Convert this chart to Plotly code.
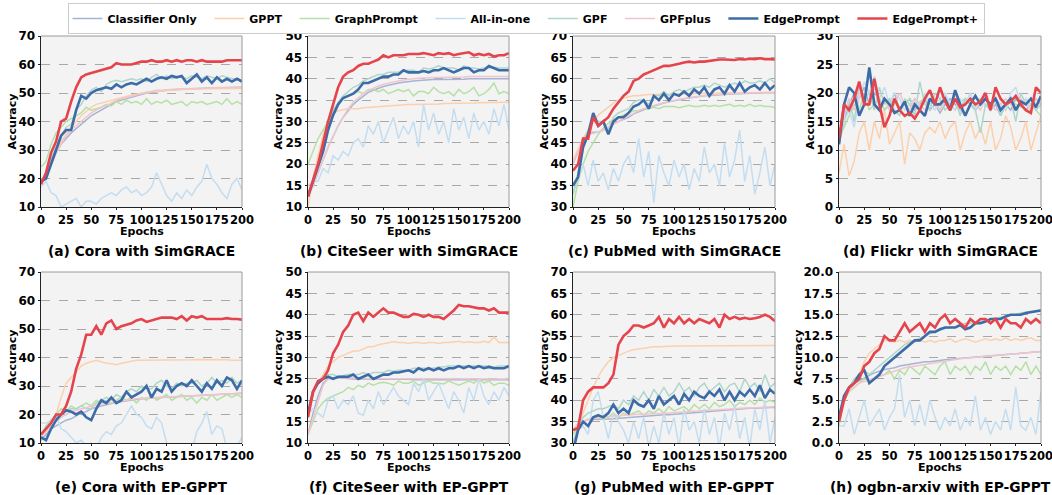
import plotly.graph_objects as go

EPOCHS = list(range(0, 201, 5))
METHODS = ["Classifier Only", "GPPT", "GraphPrompt", "All-in-one", "GPF", "GPFplus", "EdgePrompt", "EdgePrompt+"]

# ---------- (a) Cora with SimGRACE ----------
a_cls = [18,21,25,29,32,34,36,37.5,39,40.5, 42,43,44,45,46,47,47.5,48,48.5,49, 49.5,50,50.2,50.5,50.7,51,51,51.2,51.3,51.5, 51.5,51.6,51.6,51.7,51.7,51.8,51.8,51.9,51.9,52, 52]
a_gppt = [18,22,26,30,33,35.5,38,40,42,43.5, 45,46,46.5,47,47.5,48,48.5,49,49.3,49.6, 50,50.2,50.4,50.6,50.8,51,51,51.1,51.2,51.3, 51.3,51.4,51.4,51.5,51.5,51.5,51.5,51.6,51.6,51.6, 51.6]
a_gp = [24,26,32,36,38,40,41,42,43,45, 44,44.5,45,46,45.5,47,46,47.5,46.5,47, 46,48,46,47,46.5,47.5,46,46.5,47,45.5, 47,46.5,47,46,46.5,47,46,48,46,47, 46]
a_aio = [17,19,15,14,10,11,12,13,10,12, 12,11,13,14,15,14,16,17,15,16, 14,15,17,22,18,14,12,15,13,16, 14,17,19,25,20,18,15,13,18,20, 16]
a_gpf = [19,22,27,31,35,38,39,44,46,49, 51,52,50.5,53,54,54.5,54,54.5,55,54.5, 55,54,55.5,56.5,55,56,55,55.5,55.5,55, 56,55.5,55,56,55.5,55,56,55.5,55,55, 54.5]
a_gpfp = [18,21,25,29,32,35,37,38.5,40,41.5, 43,44,45,45.5,46.5,47.5,48,48.5,49,49.5, 50,50.3,50.5,51,51,51.2,51.3,51.4,51.5,51.5, 51.6,51.6,51.7,51.7,51.8,51.8,51.8,51.9,51.9,51.9, 52]
a_ep = [19,20,25,30,35,37,37,44,49,48, 50,51,51.5,52,51.5,53,52,53,53.5,53, 54,55,54,55,55.5,55,56,55.5,56,53.5, 55,56.5,54,55.5,53.5,55.5,54,55,54,55, 54]
a_epp = [18,22,29,33,40,41,47,52,55.5,56.5, 57,57.5,58,58.5,59,60.5,60,60,60,60.5, 61,61,61.5,61,61,61.5,61,61.5,61,61.5, 61.5,61,61.5,61,61,61,61,61.5,61.5,61.5, 61.5]

# ---------- (b) CiteSeer with SimGRACE ----------
b_cls = [12.5,15,18,21,24,26.5,29,31,32.5,34, 35,36,36.8,37.3,37.8,38.2,38.5,38.8,39,39.2, 39.4,39.5,39.6,39.7,39.7,39.8,39.8,39.8,39.9,39.9, 39.9,39.9,40,40,40,40,40,40,40,40, 40]
b_gppt = [10,17,22,27,30,32,32.5,32.8,33,33, 33,33.2,33.3,33.4,33.5,33.6,33.7,33.8,33.8,33.9, 34,34,34,34,34.1,34.1,34.1,34.2,34.2,34.2, 34.3,34.3,34.3,34.3,34.4,34.4,34.4,34.4,34.5,34.5, 34.5]
b_gp = [20,23,26,28,30,33,34,35.5,36,36.5, 37,36.5,37.5,37.5,37,37.5,36.5,37,37.5,37, 37.5,36,37,37,36.5,38,37,36.5,37,36, 37.5,36.5,37,38,36,36.5,37.5,39,36.5,37, 36.5]
b_aio = [15,16,16,19,18,22,21,23,22,25, 26,24,29,27,30,25,28,31,26,29, 27,30,24,34,28,32,27,30,25,33, 28,31,26,32,28,30,27,33,29,34, 28]
b_gpf = [12.5,16,20,25,29,32.5,34.5,36,37,38, 38.5,39.5,40,40.5,41,41,41.5,41.5,41.5,42, 42,42,41.5,42.5,42.3,42.5,43,42.5,42.5,42.5, 42,43,42.5,42.5,42.3,42.5,42.5,42.7,42.5,42.5, 42.5]
b_gpfp = [12.5,15,18,21,24,26.5,29,31,33,34.5, 35.5,36.5,37.2,37.8,38.3,38.7,39,39.3,39.5,39.7, 39.9,40,40.1,40.2,40.2,40.3,40.3,40.3,40.4,40.4, 40.4,40.4,40.5,40.5,40.5,40.5,40.5,40.5,40.5,40.5, 40.5]
b_ep = [12.5,16,19.5,23,28,31.5,34,35.5,36,36.5, 37.5,39,39,39.5,40,40.5,40.5,41,41,42, 41.5,41.5,41.5,41.8,41.5,42,42,42.5,42,41.5, 42,42.5,42.5,41.5,42,42,43,42.5,42,42, 42]
b_epp = [12.5,16,20,25,30,34,38,40.5,41.5,42, 43,43.5,43.5,44,44.5,45.5,45,45.5,45.5,45.5, 45.8,45.8,45.8,46,45.8,45.5,46,45.8,46,45.5, 45.8,46,46.2,45.5,45.8,45.5,45.8,45.2,45.5,45.5, 46]

# ---------- (c) PubMed with SimGRACE ----------
c_cls = [40,43,46,47,47.5,47.5,48,48.5,49.5,50, 50.5,51,51.8,52.3,52.8,53.2,53.6,54,54.3,54.6, 54.9,55.1,55.3,55.5,55.7,55.8,56,56.1,56.2,56.3, 56.4,56.4,56.5,56.5,56.6,56.6,56.6,56.7,56.7,56.7, 56.7]
c_gppt = [41,43.5,46,48,50,51.5,52.5,53.5,54.3,55, 55.5,55.8,56,56,56.2,56.3,56.3,56.4,56.4,56.4, 56.5,56.5,56.5,56.5,56.6,56.6,56.6,56.6,56.6,56.7, 56.7,56.7,56.7,56.7,56.7,56.8,56.8,56.8,56.8,56.8, 56.8]
c_gp = [30,36,40,43,45,47,48.5,49.5,50.5,51, 51.5,52,52.5,52.5,53,53,53.3,53,53.5,53.5, 53.5,53.2,53.5,53.8,53.5,53.5,53.8,53.5,53.8,53.5, 53.8,54,53.5,53.8,53.5,54,53.5,53.8,53.5,53.5, 53.3]
c_aio = [33,37,40,35,41,36,38,34,39,36, 40,42,38,46,37,43,31,42,38,35, 41,37,40,34,39,36,44,38,40,35, 45,37,41,48,36,42,33,38,44,35, 40]
c_gpf = [33,38,45,48,51,50,50,48,51,52, 52.5,53,54.5,55,55,54,56,56,57,56, 57,57.5,57,57.5,58,58,58.5,58,59,58.5, 58,58.5,59,58.5,59.5,59,59,59.5,59,60, 59]
c_gpfp = [40,43,46,47,47.3,47.5,48,48.7,49.5,50.2, 50.7,51.3,52,52.5,53,53.4,53.8,54.1,54.4,54.7, 55,55.2,55.4,55.6,55.8,55.9,56.1,56.2,56.3,56.4, 56.5,56.5,56.6,56.6,56.7,56.7,56.7,56.8,56.8,56.8, 56.8]
c_ep = [35,37,44,47,52,49,50,47,50,51, 51,52,53.5,54,55,53,56,55,56.5,55, 56.5,56,57,56,57.5,56.5,58,56,57.5,58, 56.5,58.5,57,59,57,58,58.5,57.5,59,57.5, 58.5]
c_epp = [38.5,40,46,46,51,49,50,51,53,54.5, 56,57,59.5,60,61,61.5,62,62.5,63,63, 63.2,63.5,63.8,64,63.8,64,64,64.2,64.3,64.5, 64.5,64.5,64.4,64.6,64.5,64.7,64.6,64.8,64.6,64.6, 64.5]

# ---------- (d) Flickr with SimGRACE ----------
d_cls = [11,15,18,20,19,21,18,20,19,17, 18,20,17,18,19,17,18,19,17,18, 16.5,18,19,18,17,19,18,17,18,19, 17,18,16,18,17,19,18,17,18,19, 18]
d_gppt = [6,11,5.5,8,13,15,10,15,12,17, 11,13,15,7.5,13,12,10,13,14,13, 15,12,14,15,10,13,15,12,14,11, 15,10,12,16,14,10,12,15,10,13, 16]
d_gp = [12,14,16,18,17,20,17,18,19,17, 18,19,17.5,18,19,18,18.5,19,18,19, 17,19,18,17,18.5,19,18,17.5,19,18, 17,19,18,17,19,18,17.5,19,18,17, 16]
d_aio = [12,15,17,14,19,22,20,23,19,21, 18,20,19,17,18,19,17,20,18,17, 19,20,18,17,19,18,20,17,19,18, 17,19,18,17,20,21,18,19,17,18, 19]
d_gpf = [11,16,19,15,21,19,20,17,21,18, 19,17,16,19,18,16,22,18,17,20, 19,17,18,19,16,19,18,17,13,18, 17,19,16,18,19,15,20,18,19,17, 18]
d_gpfp = [11,16,19,17,20,19,18,21,18,19, 17,18,20,18,17,19,18,17,19,18, 17,19,18,20,17,18,19,18,17,19, 18,17,18,19,18,17,19,18,17,19, 18]
d_ep = [11,18,21,20,16,18,24.5,18,17,19, 18,16.5,17,18.5,16,18,17,16,19,18, 18,19,17,20.5,18,16,18,19.5,18,19, 18,19,17,18,19,17,18.5,18,19,17.5, 19.5]
d_epp = [12,18,17,19,22,18,18,22.5,18,14, 16,19,17,16,16.5,15.5,17,19,20.5,18, 21,18.5,17,19,17.5,18,19,18,18.5,20, 17,21,19,18,18.5,19.5,18,17,16.5,21, 20]

# ---------- (e) Cora with EP-GPPT ----------
e_cls = [11,13,15,16,17,18,18.5,19.5,20.5,21, 22,22.5,23,23.5,24,24.3,24.6,24.9,25.1,25.3, 25.5,25.7,25.8,25.9,26,26.1,26.2,26.3,26.4,26.5, 26.6,26.7,26.8,26.9,27,27.1,27.2,27.3,27.4,27.5, 27.5]
e_gppt = [13,14,17,20,26,31,33,35,37,38, 38.5,39,38.5,38,37.8,37.5,38,38.3,38.5,39, 39,39,39,39,39.2,39.2,39,39,39,39, 39.2,39.3,39.3,39.2,39.2,39.3,39.2,39.2,39,39, 39]
e_gp = [13,16,18,20,22,21,23,22,23,24, 23,25,24,25,24,25,26,25,26,24, 26,25,27,25,26,27,25,26,27,25, 26,24,26,25,27,25,26,27,26,27, 26]
e_aio = [17,17,18,20,15,14,12,10,11,9, 10,8,12,14,13,16,17,20,23,20, 19,16,15,19,17,10,8,7,9,8, 7,14,17,21,13,16,15,8,7,9, 12]
e_gpf = [12,15,18,19,20,21,22,22,23,22, 22,24,25,26,25,27,26,28,29,28, 30,29,29,31,32,30,29,31,30,31, 31,32,30,31,33,31,32,31,33,31, 32]
e_gpfp = [12,14,16,17.5,19,20,21,21.5,22,22.5, 23,23.3,23.7,24,24.3,24.6,24.9,25.1,25.3,25.5, 25.7,25.8,25.9,26,26.1,26.2,26.3,26.4,26.5,26.6, 26.7,26.8,26.9,27,27,27.1,27.2,27.3,27.4,27.5, 27.5]
e_ep = [12,11,15,18,20,21.5,21,20,21,19, 18,22,25,24,26,24,25,28,26,27, 28,30,26,29,28,32,28,30,31,30, 32,30,28,31,29,32,30,33,32,29, 32]
e_epp = [13,15,17,20,20,23,28,36,41,48, 48,51,48,52,53,50,51,51.5,52,53, 53.5,52.5,53,53.5,54,54,54,53.5,54.5,53, 54.5,54,54.5,53.5,53.5,53.5,53.5,53.8,53.5,53.5, 53.3]

# ---------- (f) CiteSeer with EP-GPPT ----------
f_cls = [12,17,21,24,25,25.2,25.2,25.2,25.1,25, 25,25,25,25,25,24.9,24.9,24.9,24.9,24.9, 24.9,24.8,24.8,24.8,24.8,24.8,24.8,24.8,24.8,24.8, 24.8,24.8,24.8,24.8,24.8,24.8,24.8,24.8,24.8,24.8, 24.8]
f_gppt = [16,21,24,26,28,29,30,30.5,31,31.5, 31.5,32,32.5,32.5,33,33.2,33.5,33.7,33.5,33.5, 33.3,33.5,33.5,33.3,33.5,33.5,33.3,33.5,33.5,33.7, 33.8,33.5,33.7,33.5,33.5,33.8,33.5,34.8,33.5,33.5, 33.5]
f_gp = [12,15,18,19.5,20.5,21,21.5,22,23,22.5, 23.5,23,24,23.5,24,24.2,24,23.5,24.5,24, 24,24.5,23.5,24,24.5,24,24,23.8,24.5,24, 23.5,24,24.5,24,25,24,24.5,23.5,24,24, 23.5]
f_aio = [17,18,17,16,20,21,18,20,19,21, 17,16.5,20,18,22,19,21,23,21,20, 19,24,22,25,20,22,24,21,18,22, 20,17,23,20,25,21,19,22,20,23, 21]
f_gpf = [17,22,24.5,25.5,26,26,25.5,25.8,26,26, 26,26.5,26,26.5,26.5,26.5,27,26.8,27,27, 27,27.5,27.5,27.5,27.5,27.5,27.8,27.8,28,28, 28,28,28,28,28,28,28,27.8,28,28, 28]
f_gpfp = [12,16,20,23.5,25,25.3,25.3,25.3,25.2,25.2, 25.1,25.1,25.1,25,25,25,25,25,25,25, 25,25,25,25,25,25,25,25,25,25, 25,25,25,25,25,25,25,25,25,25, 25]
f_ep = [17,22,24,25,25.5,25,25.5,25.5,25.5,26, 25,25.5,26,25,25.5,26,26,26.5,26.5,26.8, 27,26.5,27.5,27,27.5,27,27.5,27,27.5,27.5, 28,27.5,28,27.5,28,27.5,27.8,27.5,27.5,27.5, 28]
f_epp = [16,22,24.5,25,27,31,33,36,37.5,40, 40.5,38.5,40.5,39.5,40.5,41.5,40.5,40.5,40,39.5, 39.5,40.2,40,39.5,40,39.5,39.5,39,40,41, 42.3,42,42,41.8,41.5,41.5,41,41.5,40.5,40.5, 40.5]

# ---------- (g) PubMed with EP-GPPT ----------
g_cls = [33,34.5,35,35.5,35.5,35.5,35.5,35.6,35.7,35.8, 35.9,36,36.1,36.2,36.3,36.4,36.5,36.5,36.6,36.6, 36.7,36.8,36.9,37,37.1,37.2,37.3,37.4,37.5,37.6, 37.7,37.8,37.9,38,38,38.1,38.1,38.2,38.2,38.3, 38.3]
g_gppt = [30,33,37,40,43,45.5,47.5,49,50,50.5, 51,51.5,51.8,52,52.2,52.3,52.5,52.5,52.6,52.7, 52.7,52.7,52.7,52.8,52.8,52.8,52.8,52.8,52.8,52.8, 52.8,52.8,52.8,52.8,52.8,52.8,52.8,52.8,52.8,52.8, 52.8]
g_gp = [32,34,35,35.5,36,36,35.5,36,37,36, 37,36.5,37,37.5,36.5,37.5,37,38,37,38.5, 37.5,38,38.5,37.5,39,38,39,38,39.5,38.5, 39,40,38.5,39.5,39,40,39,40.5,39.5,40, 39.5]
g_aio = [30,33,34,32,40,42,36,31,37,35, 33,30,35,31,36,29,34,30,37,32, 36,29,38,33,35,30,38,32,36,29, 37,33,39,31,36,29,38,33,40,30, 36]
g_gpf = [30,34,36,37,37.5,38,38,38.5,39,38, 40,39,41,40,42,40,42.5,41,43,41, 42,44,42,43,41,43,44,42,43,44, 42,43.5,44,42,45,43,44,42,46,43, 44]
g_gpfp = [33,34.5,35,35.5,35.8,36,36,36.2,36.3,36.4, 36.5,36.6,36.6,36.7,36.7,36.8,36.8,36.9,36.9,37, 37,37.1,37.2,37.3,37.4,37.5,37.6,37.7,37.7,37.8, 37.8,37.9,38,38.1,38.2,38.2,38.3,38.3,38.4,38.4, 38.5]
g_ep = [28,33,35,34,36,36.5,36,37,39,37, 38,37,40,39,38.5,40,38,41,39,40, 41,39,41.5,40,42,41,40.5,42,41,42.5, 40,42,40,42,41,42.5,41,43.5,40.5,42.5, 41.5]
g_epp = [33,33.5,40,42,43,43,43,44,46,53, 55,56,57.5,57.5,57,57.5,58,59.5,57,59, 58,59.5,58,59,58,59,58.5,58,59,57, 60,59,59.5,59,59.3,59,59.2,59.5,60,59.5, 58.5]

# ---------- (h) ogbn-arxiv with EP-GPPT ----------
h_cls = [3,5.5,6.5,7,7.3,7.6,7.9,8.2,8.4,8.6, 8.7,8.8,9,9.1,9.2,9.3,9.4,9.5,9.5,9.6, 9.7,9.75,9.8,9.85,9.9,9.95,10,10.05,10.1,10.15, 10.2,10.25,10.3,10.35,10.4,10.45,10.5,10.55,10.6,10.65, 10.7]
h_gppt = [3,5,6,7,8,9.5,10.5,11,11.5,12, 12,11.8,12,11.8,12,11.8,12,11.8,12,11.8, 12,12,12.2,11.8,12,12.2,12,11.8,12,12.2, 12,12.2,12,12.3,12,12.2,12,12.2,12.3,12, 12]
h_gp = [2,5,6,6.5,7,7.5,7.2,7.5,7.8,8, 8.5,7.5,8.5,8,9,8.5,8,9,8.5,8, 9,9.5,8,9,8.5,9,8,9,8.5,9.5, 8,9,8.5,9,8,9,8.5,9.5,8,9, 8]
h_aio = [2,2,4,1,3,5,2,3,4,1.5, 3,4,8,3,5,2,4.5,2,5,3, 1.5,3,2,4,1.5,3,2,5.5,1.5,3, 1,2.5,1.5,4,1.5,6.5,2,1.5,3,1, 6]
h_gpf = [3,5,6.5,7.5,8,8.5,8,8.5,9,9.5, 10,10.5,11,11.5,11.8,12,12.3,12.5,12.8,13, 13.2,13.4,13.5,13.6,13.8,14,14,14.1,14.2,14.3, 14.5,14.6,14.7,14.8,15,15,15.2,15.3,15.4,15.5, 15.6]
h_gpfp = [3,5,6,6.5,7,7.2,7.4,7.6,7.8,8, 8.2,8.4,8.6,8.8,8.9,9,9.1,9.2,9.3,9.4, 9.5,9.6,9.7,9.8,9.85,9.9,9.95,10,10.05,10.1, 10.15,10.2,10.25,10.3,10.35,10.4,10.45,10.5,10.55,10.6, 10.7]
h_ep = [3,5.5,6.5,7,8,8.5,7,7.5,8,9, 9.5,10,10.5,11,11.5,12,12,12.5,13,13, 13.3,13.5,13.5,13.5,13.8,13.3,13.5,14,14,14.2, 14.5,14.5,14.5,14.8,15,15,15,15.2,15.3,15.4, 15.5]
h_epp = [2.5,5,6.5,7,7.5,9,9.5,10.5,11,12.5, 12,12,13,14,13,13.5,14,13,14,13.5, 14.5,15,14,14.5,14,13.5,14.5,14,14.5,14.5, 14,14.5,13.5,14.5,14,14,13.5,14.5,14,14.5, 14]

PANEL_TITLES = ["(a) Cora with SimGRACE", "(b) CiteSeer with SimGRACE", "(c) PubMed with SimGRACE",
                "(d) Flickr with SimGRACE", "(e) Cora with EP-GPPT", "(f) CiteSeer with EP-GPPT",
                "(g) PubMed with EP-GPPT", "(h) ogbn-arxiv with EP-GPPT"]
Y_RANGES = [(10, 70), (10, 50), (30, 70), (0, 30), (10, 70), (10, 50), (30, 70), (0, 20)]
Y_DTICKS = [10, 5, 5, 5, 10, 5, 5, 2.5]
X_TICKS = [0, 25, 50, 75, 100, 125, 150, 175, 200]

PANELS = [
    [a_cls, a_gppt, a_gp, a_aio, a_gpf, a_gpfp, a_ep, a_epp],
    [b_cls, b_gppt, b_gp, b_aio, b_gpf, b_gpfp, b_ep, b_epp],
    [c_cls, c_gppt, c_gp, c_aio, c_gpf, c_gpfp, c_ep, c_epp],
    [d_cls, d_gppt, d_gp, d_aio, d_gpf, d_gpfp, d_ep, d_epp],
    [e_cls, e_gppt, e_gp, e_aio, e_gpf, e_gpfp, e_ep, e_epp],
    [f_cls, f_gppt, f_gp, f_aio, f_gpf, f_gpfp, f_ep, f_epp],
    [g_cls, g_gppt, g_gp, g_aio, g_gpf, g_gpfp, g_ep, g_epp],
    [h_cls, h_gppt, h_gp, h_aio, h_gpf, h_gpfp, h_ep, h_epp],
]
for p in PANELS:
    for s in p:
        assert len(s) == len(EPOCHS), len(s)

COLORS = ["#a5b4d6", "#fcd0ad", "#b6e0a6", "#c3ddf1", "#afd6ca", "#f1c6ca", "#3d6ba8", "#e5444c"]
WIDTHS = [1.5, 1.5, 1.5, 1.5, 1.5, 1.5, 2.6, 2.6]

W, H = 1052, 495
COL_PX = [(41, 242), (308, 509), (573, 775), (839, 1041)]
ROW_PX = [(36, 207), (272, 443)]
YLAB_X = [12, 278, 544, 810, 12, 278, 544, 798]
TITLE_Y = [250.5, 487]
EPOCH_Y = [231.5, 467]

FAM = "DejaVu Sans"


def bold(size):
    return dict(family=FAM, size=size, color="black", weight="bold")


fig = go.Figure()
layout = dict(
    template="none",
    width=W, height=H, autosize=False,
    margin=dict(l=0, r=0, t=0, b=0, pad=0),
    paper_bgcolor="white", plot_bgcolor="#f3f3f3",
    font=bold(12),
    showlegend=True,
    legend=dict(orientation="h", x=0.5, xanchor="center", y=1 - 3 / H, yanchor="top",
                bgcolor="white", bordercolor="#cccccc", borderwidth=1,
                font=bold(11), itemwidth=30, tracegroupgap=0),
)
annotations = []
shapes = []

for k in range(8):
    r, c = divmod(k, 4)
    idx = "" if k == 0 else str(k + 1)
    x0, x1 = COL_PX[c]
    yt, yb = ROW_PX[r]
    layout["xaxis" + idx] = dict(
        domain=[x0 / W, x1 / W], anchor="y" + idx, range=[0, 200], automargin=False,
        tickvals=X_TICKS, tickangle=0, ticks="outside", ticklen=2, tickwidth=1, tickcolor="#222",
        showline=True, linecolor="#222", linewidth=1, mirror=False, ticklabeloverflow="allow",
        showgrid=False, zeroline=False, tickfont=bold(11.5),
    )
    ylo, yhi = Y_RANGES[k]
    layout["yaxis" + idx] = dict(
        domain=[1 - yb / H, 1 - yt / H], anchor="x" + idx, range=[ylo, yhi], automargin=False,
        dtick=Y_DTICKS[k], tick0=ylo, tickformat=".1f" if k == 7 else "d",
        ticks="outside", ticklen=2.5, tickwidth=1, tickcolor="#222",
        showline=True, linecolor="#222", linewidth=1, mirror=False, ticklabeloverflow="allow",
        showgrid=True, gridcolor="#a8a8a8", griddash="dash", gridwidth=0.8,
        zeroline=False, tickfont=bold(12),
    )
    shapes.append(dict(type="line", xref="x" + idx + " domain", yref="y" + idx + " domain",
                       x0=0, x1=1, y0=1, y1=1, line=dict(color="#9a9a9a", width=1), layer="above"))
    shapes.append(dict(type="line", xref="x" + idx + " domain", yref="y" + idx + " domain",
                       x0=1, x1=1, y0=0, y1=1, line=dict(color="#9a9a9a", width=1), layer="above"))

    for m, name in enumerate(METHODS):
        fig.add_trace(go.Scatter(
            x=EPOCHS, y=PANELS[k][m], mode="lines", name=name + ("\u00a0\u00a0" if m < 7 else ""),
            legendgroup=name, showlegend=(k == 0),
            line=dict(color=COLORS[m], width=WIDTHS[m]),
            xaxis="x" + idx, yaxis="y" + idx, hoverinfo="skip",
        ))

    xc = (x0 + x1) / 2 / W
    annotations.append(dict(text=PANEL_TITLES[k], x=xc, y=1 - TITLE_Y[r] / H, xref="paper", yref="paper",
                            showarrow=False, xanchor="center", yanchor="middle", font=bold(13.8)))
    annotations.append(dict(text="Epochs", x=xc, y=1 - EPOCH_Y[r] / H, xref="paper", yref="paper",
                            showarrow=False, xanchor="center", yanchor="middle", font=bold(11)))
    annotations.append(dict(text="Accuracy", x=YLAB_X[k] / W, y=1 - (yt + yb) / 2 / H, xref="paper", yref="paper",
                            showarrow=False, xanchor="center", yanchor="middle", textangle=-90, font=bold(11)))

layout["annotations"] = annotations
layout["shapes"] = shapes
fig.update_layout(**layout)
fig.write_html("out.html", config={"displayModeBar": False},
               post_script="document.body.style.margin='0';document.body.style.padding='0';document.body.style.overflow='hidden';")
